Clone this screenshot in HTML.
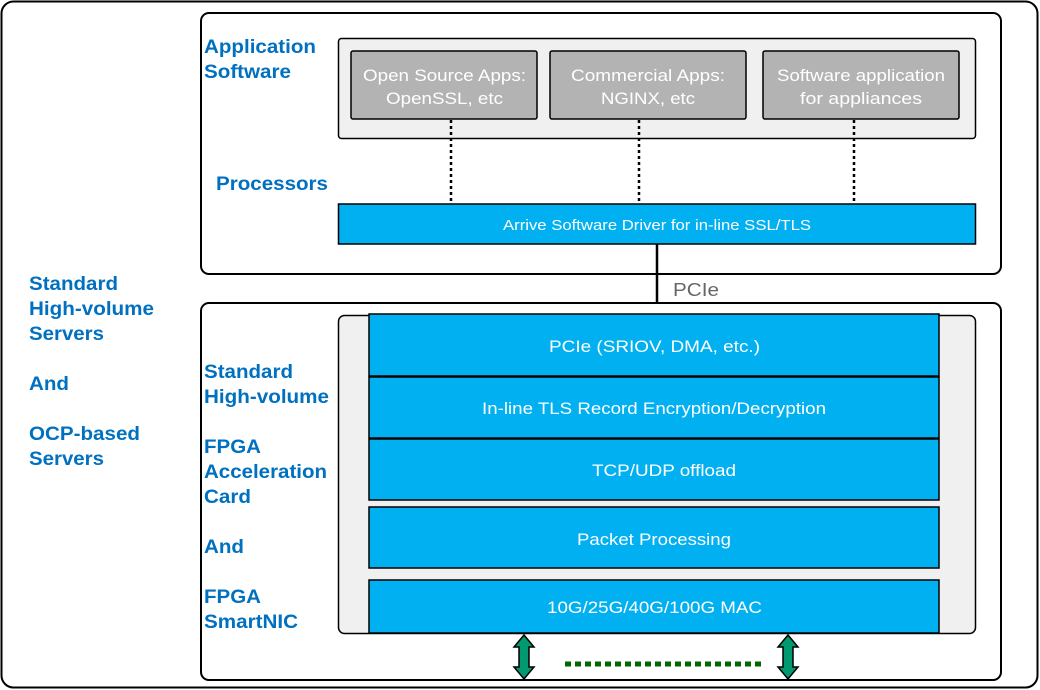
<!DOCTYPE html>
<html><head><style>body{margin:0;background:#fff}svg{display:block}</style></head><body>
<svg width="1040" height="690" xmlns="http://www.w3.org/2000/svg" font-family="Liberation Sans, sans-serif">
<rect x="1.5" y="1.5" width="1036" height="686" rx="12" fill="#fff" stroke="#000" stroke-width="2"/>
<rect x="201" y="13" width="800" height="261" rx="8" fill="#fff" stroke="#000" stroke-width="2"/>
<rect x="338.5" y="38.5" width="637" height="100" rx="3" fill="#f0f0f0" stroke="#000" stroke-width="1.5"/>
<g fill="#b3b3b3" stroke="#000" stroke-width="1.5">
<rect x="351" y="51" width="186" height="68" rx="2"/>
<rect x="550" y="51" width="196" height="68" rx="2"/>
<rect x="763" y="51" width="196" height="68" rx="2"/>
</g>
<g fill="#fff" font-size="17" lengthAdjust="spacingAndGlyphs">
<text x="363" y="81" textLength="163" lengthAdjust="spacingAndGlyphs">Open Source Apps:</text><text x="386" y="104" textLength="117" lengthAdjust="spacingAndGlyphs">OpenSSL, etc</text>
<text x="571" y="81" textLength="154" lengthAdjust="spacingAndGlyphs">Commercial Apps:</text><text x="601" y="104" textLength="94" lengthAdjust="spacingAndGlyphs">NGINX, etc</text>
<text x="777" y="81" textLength="168" lengthAdjust="spacingAndGlyphs">Software application</text><text x="800" y="104" textLength="122" lengthAdjust="spacingAndGlyphs">for  appliances</text>
</g>
<g stroke="#000" stroke-width="2.5" stroke-dasharray="3,3">
<line x1="451" y1="120" x2="451" y2="203"/><line x1="639" y1="120" x2="639" y2="203"/><line x1="854" y1="120" x2="854" y2="203"/>
</g>
<rect x="338.5" y="204" width="637" height="40" fill="#00b0f0" stroke="#000" stroke-width="1.5"/>
<text x="503" y="230" fill="#fff" font-size="15" textLength="308" lengthAdjust="spacingAndGlyphs">Arrive Software Driver for in-line SSL/TLS</text>
<line x1="657" y1="244" x2="657" y2="314" stroke="#000" stroke-width="2.5"/>
<text x="673" y="296" fill="#666" font-size="18" textLength="46" lengthAdjust="spacingAndGlyphs">PCIe</text>
<rect x="201" y="303" width="800" height="377" rx="8" fill="#fff" stroke="#000" stroke-width="2"/>
<rect x="338.5" y="315.5" width="637" height="318" rx="6" fill="#f0f0f0" stroke="#000" stroke-width="1.5"/>
<g fill="#00b0f0" stroke="#000" stroke-width="1.5">
<rect x="369" y="314" width="570" height="62"/>
<rect x="369" y="377" width="570" height="61"/>
<rect x="369" y="439" width="570" height="61"/>
<rect x="369" y="507" width="570" height="61"/>
<rect x="369" y="580" width="570" height="53"/>
</g>
<g fill="#fff" font-size="17">
<text x="549" y="352" textLength="211" lengthAdjust="spacingAndGlyphs">PCIe (SRIOV, DMA, etc.)</text>
<text x="482" y="414" textLength="344" lengthAdjust="spacingAndGlyphs">In-line TLS Record Encryption/Decryption</text>
<text x="592" y="476" textLength="144" lengthAdjust="spacingAndGlyphs">TCP/UDP offload</text>
<text x="577" y="545" textLength="154" lengthAdjust="spacingAndGlyphs">Packet Processing</text>
<text x="547" y="613" textLength="215" lengthAdjust="spacingAndGlyphs">10G/25G/40G/100G MAC</text>
</g>
<g fill="#009970" stroke="#000" stroke-width="1.5">
<polygon points="524,635 534,647 529,647 529,667 534,667 524,679 514,667 519,667 519,647 514,647"/>
<polygon points="788,635 798,647 793,647 793,667 798,667 788,679 778,667 783,667 783,647 778,647"/>
</g>
<line x1="565" y1="664" x2="764" y2="664" stroke="#006600" stroke-width="5" stroke-dasharray="6,4"/>
<g fill="#0070c0" font-size="19" font-weight="bold">
<text x="204" y="53" textLength="112" lengthAdjust="spacingAndGlyphs">Application</text><text x="204" y="78" textLength="87" lengthAdjust="spacingAndGlyphs">Software</text>
<text x="216" y="190" textLength="112" lengthAdjust="spacingAndGlyphs">Processors</text>
<text x="29" y="290" textLength="89" lengthAdjust="spacingAndGlyphs">Standard</text><text x="29" y="315" textLength="125" lengthAdjust="spacingAndGlyphs">High-volume</text><text x="29" y="340" textLength="75" lengthAdjust="spacingAndGlyphs">Servers</text>
<text x="29" y="390" textLength="40" lengthAdjust="spacingAndGlyphs">And</text>
<text x="29" y="440" textLength="111" lengthAdjust="spacingAndGlyphs">OCP-based</text><text x="29" y="465" textLength="75" lengthAdjust="spacingAndGlyphs">Servers</text>
<text x="204" y="378" textLength="89" lengthAdjust="spacingAndGlyphs">Standard</text><text x="204" y="403" textLength="125" lengthAdjust="spacingAndGlyphs">High-volume</text>
<text x="204" y="453" textLength="57" lengthAdjust="spacingAndGlyphs">FPGA</text><text x="204" y="478" textLength="123" lengthAdjust="spacingAndGlyphs">Acceleration</text><text x="204" y="503" textLength="47" lengthAdjust="spacingAndGlyphs">Card</text>
<text x="204" y="553" textLength="40" lengthAdjust="spacingAndGlyphs">And</text>
<text x="204" y="603" textLength="57" lengthAdjust="spacingAndGlyphs">FPGA</text><text x="204" y="628" textLength="94" lengthAdjust="spacingAndGlyphs">SmartNIC</text>
</g>
</svg>
</body></html>
